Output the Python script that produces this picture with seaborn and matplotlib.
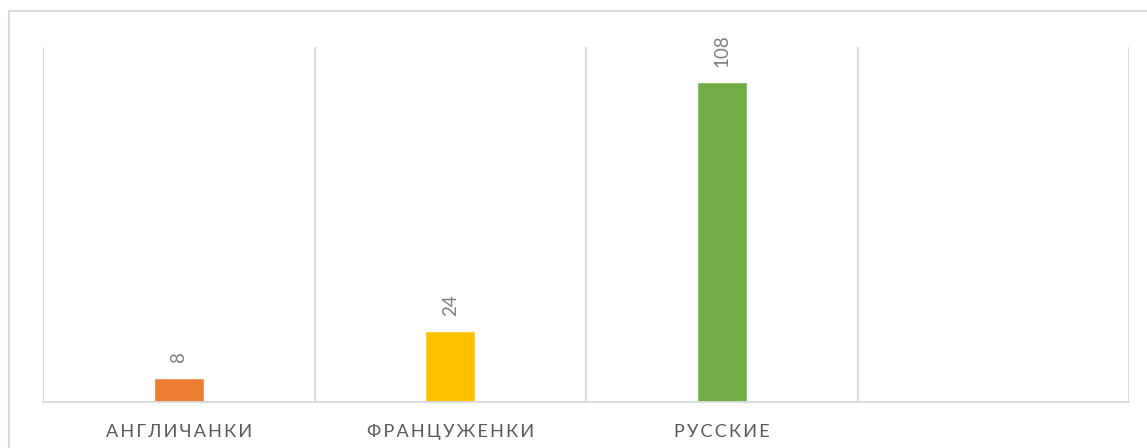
import matplotlib
matplotlib.use("Agg")
import matplotlib.pyplot as plt
import pandas as pd
import seaborn as sns
from matplotlib.patches import Rectangle

categories = ["АНГЛИЧАНКИ", "ФРАНЦУЖЕНКИ", "РУССКИЕ"]
values = [8, 24, 108]
colors = ["#ED7D31", "#FFC000", "#70AD47"]

GRID = "#d9d9d9"

sns.set_theme(style="white")
plt.rcParams["font.family"] = ["Lato", "DejaVu Sans"]

df = pd.DataFrame({"cat": categories, "val": values})

fig = plt.figure(figsize=(11.47, 4.48), dpi=100)
ax = fig.add_axes([43 / 1147, 46 / 448, (1129 - 43) / 1147, (402 - 47) / 448])

sns.barplot(data=df, x="cat", y="val", hue="cat", palette=colors,
            width=0.185, legend=False, ax=ax, saturation=1)

ax.set_xlim(-0.5, 3.5)
ax.set_ylim(0, 120)
ax.set_xlabel("")
ax.set_ylabel("")
ax.set_yticks([])

ax.set_xticks(range(3))
spaced = ["\u2009".join(c) for c in categories]
ax.set_xticklabels(spaced, fontsize=13, color="#595959")
ax.tick_params(axis="x", length=0, pad=16)

ax.set_xticks([-0.5, 0.5, 1.5, 2.5, 3.5], minor=True)
ax.tick_params(axis="x", which="minor", length=0)
ax.grid(which="minor", axis="x", color=GRID, linewidth=1.3)
ax.grid(which="major", axis="x", visible=False)

for s in ["top", "left", "right"]:
    ax.spines[s].set_visible(False)
ax.spines["bottom"].set_color(GRID)
ax.spines["bottom"].set_linewidth(1.3)

for i, v in enumerate(values):
    ax.annotate(str(v), (i, v), xytext=(0, 11), textcoords="offset points",
                rotation=90, ha="center", va="bottom", fontsize=13.5,
                color="#7f7f7f")

fig.patches.append(Rectangle((9 / 1147, -0.1), 1.2, 1.1 - 11 / 448,
                             transform=fig.transFigure, fill=False,
                             edgecolor=GRID, linewidth=1.5))

fig.savefig("out.png", dpi=100, facecolor="white")
